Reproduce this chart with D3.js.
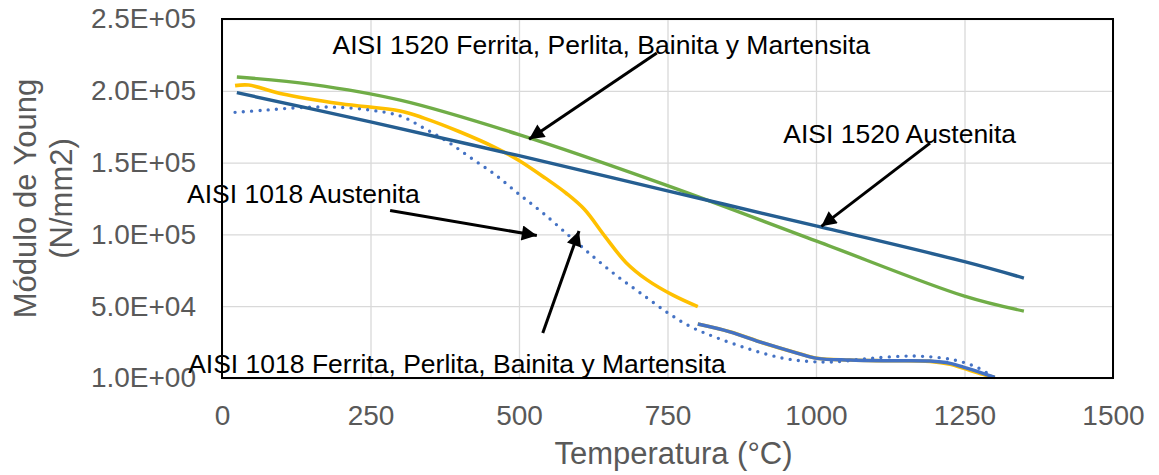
<!DOCTYPE html>
<html>
<head>
<meta charset="utf-8">
<script src="https://cdn.jsdelivr.net/npm/d3@7"></script>
<style>
body { margin: 0; background: #fff; }
svg { font-family: "Liberation Sans", Arial, sans-serif; }
</style>
</head>
<body>
<svg id="chart" width="1159" height="475"></svg>
<script>
// ticks
var xTicks = [0, 250, 500, 750, 1000, 1250, 1500]
var yTicks = [0, 50000, 100000, 150000, 200000, 250000]
var yTickLabels = ["1.0E+00", "5.0E+04", "1.0E+05", "1.5E+05", "2.0E+05", "2.5E+05"]

// AISI 1520 Ferrita, Perlita, Bainita y Martensita
var t1520f = [25, 150, 300, 500, 750, 1000, 1250, 1350]
var e1520f = [209600, 204500, 193500, 169500, 134000, 95500, 57000, 46600]

// AISI 1520 Austenita
var t1520a = [25, 250, 500, 750, 1000, 1250, 1350]
var e1520a = [198700, 178300, 154800, 130300, 105900, 81000, 69600]

// AISI 1018 Ferrita, Perlita, Bainita y Martensita
var t1018f = [22, 45, 100, 200, 300, 340, 400, 460, 500, 545, 580, 610, 645, 680, 715, 760, 801]
var e1018f = [203600, 204000, 198000, 191000, 186000, 181000, 171500, 160500, 151500, 139000, 128500, 117500, 98500, 80500, 68500, 57500, 49700]
// tramo alto (bajo la curva azul)
var t1018f2 = [801, 855, 911, 968, 1002, 1057, 1113, 1192, 1226, 1254, 1281, 1301]
var e1018f2 = [37600, 32200, 24400, 17400, 13700, 12500, 12000, 11600, 9600, 6000, 2600, 300]

// AISI 1018 Austenita (solid, high temperature)
var t1018s = [801, 855, 911, 968, 1002, 1057, 1113, 1192, 1226, 1254, 1281, 1301]
var e1018s = [37600, 32200, 24400, 17400, 13700, 12500, 12000, 11800, 10200, 6800, 3300, 500]

// AISI 1018 Austenita (dotted)
var t1018a = [22, 75, 131, 190, 250, 300, 340, 380, 420, 460, 500, 540, 585, 625, 665, 705, 750, 790, 830, 885, 940, 985, 1030, 1090, 1160, 1215, 1245, 1275, 1300]
var e1018a = [185000, 186600, 188300, 188600, 186500, 182500, 174000, 164500, 153000, 141500, 128000, 115000, 98800, 84500, 71000, 59000, 45500, 35500, 28500, 20500, 14200, 11600, 11200, 13600, 15300, 13800, 11300, 6600, 300]

// annotations: text anchor (T, E) and arrow from/to (T, E)
var notes = [
	{ text: "AISI 1520 Ferrita, Perlita, Bainita y Martensita", t: 186, e: 225500, from: [732, 226400], to: [517, 166300] },
	{ text: "AISI 1520 Austenita", t: 945, e: 163600, from: [1192, 163600], to: [1009, 105600] },
	{ text: "AISI 1018 Austenita", t: -59, e: 122000, from: [283, 116700], to: [530, 99200] },
	{ text: "AISI 1018 Ferrita, Perlita, Bainita y Martensita", t: -57, e: 3700, from: [540, 31300], to: [601, 102400] }
]

var svg = d3.select("#chart")
var pLeft = 222, pRight = 1113, pTop = 19, pBottom = 378

var x = d3.scaleLinear().domain([0, 1500]).range([pLeft, pRight])
var y = d3.scaleLinear().domain([0, 250000]).range([pBottom, pTop])

// grid
svg.append("g").attr("transform", "translate(0," + pBottom + ")")
	.call(d3.axisBottom(x).tickValues(xTicks).tickSize(-(pBottom - pTop)).tickFormat(""))
	.call(function(g) { g.select(".domain").remove() })
	.selectAll("line").attr("stroke", "#d9d9d9").attr("stroke-width", 1.3)
svg.append("g").attr("transform", "translate(" + pLeft + ",0)")
	.call(d3.axisLeft(y).tickValues(yTicks).tickSize(-(pRight - pLeft)).tickFormat(""))
	.call(function(g) { g.select(".domain").remove() })
	.selectAll("line").attr("stroke", "#d9d9d9").attr("stroke-width", 1.3)

// tick labels
var xa = svg.append("g").attr("transform", "translate(0," + pBottom + ")")
	.call(d3.axisBottom(x).tickValues(xTicks).tickSize(0).tickPadding(27).tickFormat(d3.format("d")))
xa.select(".domain").remove()
xa.selectAll("text").attr("font-size", 28).attr("fill", "#595959").attr("font-family", "Liberation Sans, Arial")

var ya = svg.append("g").attr("transform", "translate(" + pLeft + ",0)")
	.call(d3.axisLeft(y).tickValues(yTicks).tickSize(0).tickPadding(26)
		.tickFormat(function(d, i) { return yTickLabels[i] }))
ya.select(".domain").remove()
ya.selectAll("text").attr("font-size", 28).attr("fill", "#595959").attr("font-family", "Liberation Sans, Arial")

// series
function pts(ts, es) { return ts.map(function(t, i) { return [t, es[i]] }) }
var line = d3.line().x(function(d) { return x(d[0]) }).y(function(d) { return y(d[1]) }).curve(d3.curveCatmullRom.alpha(0.5))

var series = [
	{ d: pts(t1018f, e1018f), c: "#ffc000", w: 3.6 },
	{ d: pts(t1018f2, e1018f2), c: "#ffc000", w: 3.6 },
	{ d: pts(t1018s, e1018s), c: "#4472c4", w: 3.4 },
	{ d: pts(t1018a, e1018a), c: "#4472c4", w: 3.4, dash: "0 8.3" },
	{ d: pts(t1520f, e1520f), c: "#70ad47", w: 3.4 },
	{ d: pts(t1520a, e1520a), c: "#255e91", w: 3.4 }
]
svg.append("g").selectAll("path").data(series).enter().append("path")
	.attr("d", function(s) { return line(s.d) })
	.attr("fill", "none")
	.attr("stroke", function(s) { return s.c })
	.attr("stroke-width", function(s) { return s.w })
	.attr("stroke-linecap", function(s) { return s.dash ? "round" : "butt" })
	.attr("stroke-dasharray", function(s) { return s.dash || null })

// frame
svg.append("rect").attr("x", pLeft).attr("y", pTop).attr("width", pRight - pLeft).attr("height", pBottom - pTop)
	.attr("fill", "none").attr("stroke", "#000").attr("stroke-width", 2)

// axis titles
svg.append("text").attr("x", (pLeft + pRight) / 2 + 6).attr("y", 464).attr("text-anchor", "middle")
	.attr("font-size", 31).attr("fill", "#595959").text("Temperatura (°C)")
var yt = svg.append("text").attr("transform", "translate(36," + (pTop + pBottom) / 2 + ") rotate(-90)")
	.attr("text-anchor", "middle").attr("font-size", 31).attr("fill", "#595959")
yt.append("tspan").attr("x", 0).attr("dy", 0).text("Módulo de Young")
yt.append("tspan").attr("x", 0).attr("dy", 36).text("(N/mm2)")

// arrows
svg.append("defs").append("marker").attr("id", "head")
	.attr("viewBox", "0 0 10 10").attr("refX", 10).attr("refY", 5)
	.attr("markerWidth", 17).attr("markerHeight", 15).attr("markerUnits", "userSpaceOnUse")
	.attr("orient", "auto")
	.append("path").attr("d", "M0,0 L10,5 L0,10 Z").attr("fill", "#000")

var ann = svg.append("g")
ann.selectAll("text").data(notes).enter().append("text")
	.attr("x", function(d) { return x(d.t) }).attr("y", function(d) { return y(d.e) })
	.attr("font-size", 26.5).attr("fill", "#000").text(function(d) { return d.text })
ann.selectAll("line").data(notes).enter().append("line")
	.attr("x1", function(d) { return x(d.from[0]) }).attr("y1", function(d) { return y(d.from[1]) })
	.attr("x2", function(d) { return x(d.to[0]) }).attr("y2", function(d) { return y(d.to[1]) })
	.attr("stroke", "#000").attr("stroke-width", 3).attr("marker-end", "url(#head)")
</script>
</body>
</html>
